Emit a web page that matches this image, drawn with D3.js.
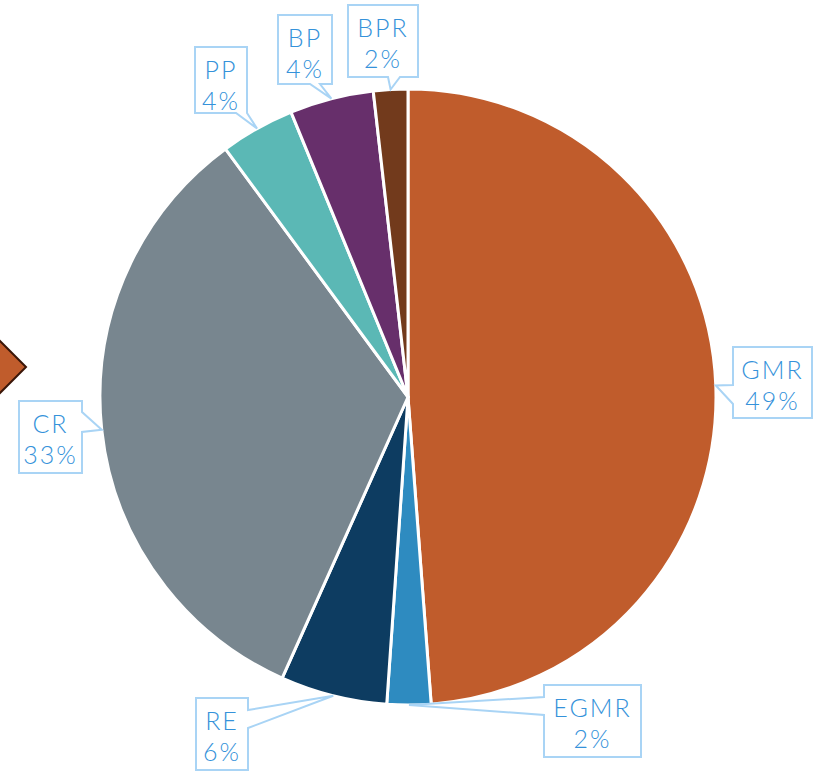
<!DOCTYPE html>
<html>
<head>
<meta charset="utf-8">
<script src="https://cdn.jsdelivr.net/npm/d3@7"></script>
<style>
  body { margin: 0; background: #fff; }
  text { font-family: "Lato", "Open Sans", sans-serif; font-weight: 300; }
</style>
</head>
<body>
<div id="chart"></div>
<script>
// data, clockwise from 12 o'clock
var categories = ["GMR", "EGMR", "RE", "CR", "PP", "BP", "BPR"];
var values = [48.8, 2.3, 5.6, 33.2, 3.9, 4.4, 1.8];
var pctLabels = ["49%", "2%", "6%", "33%", "4%", "4%", "2%"];
var colors = ["#c05c2c", "#2e8bc0", "#0d3c61", "#78868f", "#5bb8b5", "#672f6b", "#723a1c"];

// callout boxes: x, y, w, h, side of the pointer, pointer base along that side
var boxes = {
  GMR:  {x: 733, y: 347, w: 79, h: 71, side: "left",   a: 385, b: 404},
  EGMR: {x: 544, y: 685, w: 97, h: 72, side: "left",   a: 697, b: 715},
  RE:   {x: 196, y: 698, w: 52, h: 72, side: "right",  a: 710, b: 728},
  CR:   {x: 19,  y: 401, w: 63, h: 72, side: "right",  a: 412, b: 432},
  PP:   {x: 195, y: 47,  w: 52, h: 66, side: "bottom", a: 236, b: 247},
  BP:   {x: 278, y: 15,  w: 54, h: 69, side: "bottom", a: 310, b: 320},
  BPR:  {x: 348, y: 5,   w: 70, h: 72, side: "bottom", a: 388, b: 400}
};

var width = 825, height = 772;
var cx = 408, cy = 397, radius = 308;

var svg = d3.select("#chart").append("svg")
    .attr("width", width)
    .attr("height", height);

var data = categories.map(function(c, i){ return {cat: c, v: values[i], lbl: pctLabels[i], col: colors[i]}; });

var pie = d3.pie()
    .sort(null)
    .value(function(d){ return d.v; });

var arc = d3.arc()
    .innerRadius(0)
    .outerRadius(radius);

var edge = d3.arc()
    .innerRadius(radius)
    .outerRadius(radius);

var g = svg.append("g")
    .attr("transform", "translate(" + cx + "," + cy + ")");

var arcs = pie(data);

g.selectAll(".slice")
    .data(arcs)
    .enter().append("path")
    .attr("class", "slice")
    .attr("d", arc)
    .attr("fill", function(d){ return d.data.col; })
    .attr("stroke", "#fff")
    .attr("stroke-width", 3)
    .attr("stroke-linejoin", "round");

// diamond marker cut off at the left edge
svg.append("path")
    .attr("d", "M0,341 L26,367 L0,393 L-26,367 Z")
    .attr("fill", "#c05c2c")
    .attr("stroke", "#3b1608")
    .attr("stroke-width", 2);

function calloutPath(b, tip){
  var x0 = b.x, y0 = b.y, x1 = b.x + b.w, y1 = b.y + b.h;
  var p = [];
  p.push([x0, y0]);
  p.push([x1, y0]);
  if (b.side == "right"){ p.push([x1, b.a]); p.push(tip); p.push([x1, b.b]); }
  p.push([x1, y1]);
  if (b.side == "bottom"){ p.push([b.b, y1]); p.push(tip); p.push([b.a, y1]); }
  p.push([x0, y1]);
  if (b.side == "left"){ p.push([x0, b.b]); p.push(tip); p.push([x0, b.a]); }
  return "M" + p.map(function(q){ return q[0] + "," + q[1]; }).join("L") + "Z";
}

var labels = svg.selectAll(".callout")
    .data(arcs)
    .enter().append("g")
    .attr("class", "callout");

labels.append("path")
    .attr("d", function(d){
      var c = edge.centroid(d);
      return calloutPath(boxes[d.data.cat], [cx + c[0], cy + c[1]]);
    })
    .attr("fill", "#fff")
    .attr("stroke", "#a9d4f5")
    .attr("stroke-width", 2)
    .attr("stroke-linejoin", "miter");

labels.append("text")
    .attr("x", function(d){ var b = boxes[d.data.cat]; return b.x + b.w / 2; })
    .attr("y", function(d){ return boxes[d.data.cat].y + 32; })
    .attr("text-anchor", "middle")
    .attr("font-size", 25)
    .attr("letter-spacing", 2)
    .attr("fill", "#3592da")
    .text(function(d){ return d.data.cat; });

labels.append("text")
    .attr("x", function(d){ var b = boxes[d.data.cat]; return b.x + b.w / 2; })
    .attr("y", function(d){ return boxes[d.data.cat].y + 63; })
    .attr("text-anchor", "middle")
    .attr("font-size", 25)
    .attr("letter-spacing", 2)
    .attr("fill", "#3592da")
    .text(function(d){ return d.data.lbl; });
</script>
</body>
</html>
